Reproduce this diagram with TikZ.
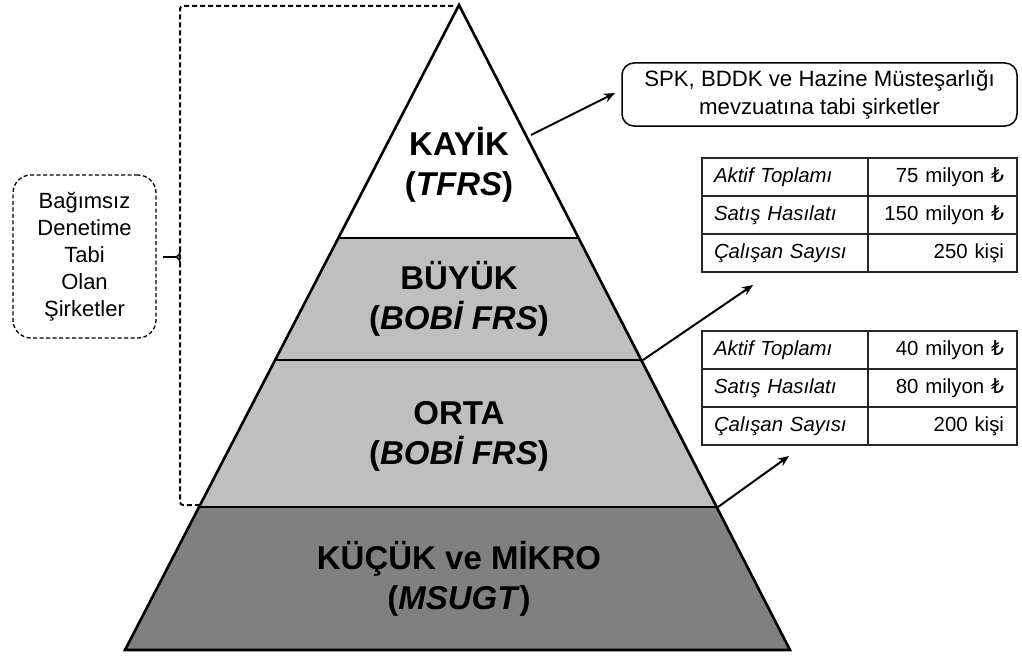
\documentclass[tikz,border=0pt]{standalone}
\usepackage{fontspec}
\setmainfont{Liberation Sans}
\newfontfamily\lirafont{DejaVu Sans}
\usetikzlibrary{arrows.meta}
\newcommand{\TL}{{\lirafont ₺}}
\begin{document}
\begin{tikzpicture}[x=1pt,y=-1pt,
  tierline/.style={draw=black,line width=2.6pt,line join=miter},
  tiertext/.style={align=center,font=\bfseries\fontsize{33}{40}\selectfont},
  dashbox/.style={draw=black,line width=1.3pt,dash pattern=on 4pt off 2.5pt,rounded corners=18pt},
  arr/.style={draw=black,line width=2pt,-{Stealth[length=11pt,width=9pt]}},
  cellL/.style={draw=black!85,line width=1.5pt,minimum width=166pt,minimum height=38pt,text width=142pt,inner xsep=12pt,align=left,font=\itshape\fontsize{20.4}{24}\selectfont,text height=14pt,text depth=4pt},
  cellR/.style={draw=black!85,line width=1.5pt,minimum width=149pt,minimum height=38pt,text width=123pt,inner xsep=13pt,align=right,font=\fontsize{20.4}{24}\selectfont,text height=14pt,text depth=4pt}
]
\useasboundingbox (0,0) rectangle (1022,661);
% pyramid points
\coordinate (A) at (459,5);
\coordinate (L1) at (339,238); \coordinate (R1) at (579,238);
\coordinate (L2) at (276,360); \coordinate (R2) at (643,360);
\coordinate (L3) at (200,507); \coordinate (R3) at (718,507);
\coordinate (BL) at (125,650); \coordinate (BR) at (790,650);
% fills
\fill[white] (A)--(R1)--(L1)--cycle;
\fill[black!25] (L1)--(R1)--(R2)--(L2)--cycle;
\fill[black!25] (L2)--(R2)--(R3)--(L3)--cycle;
\fill[black!50] (L3)--(R3)--(BR)--(BL)--cycle;
% outlines
\draw[tierline] (A)--(BR)--(BL)--cycle;
\draw[tierline] (L1)--(R1);
\draw[tierline] (L2)--(R2);
\draw[tierline] (L3)--(R3);
% tier texts
\node[tiertext] (kayik) at (459,165) {KAYİK\\(\textit{TFRS})};
\node[tiertext] (buyuk) at (459,299) {BÜYÜK\\(\textit{BOBİ FRS})};
\node[tiertext] (orta) at (459,436) {ORTA\\(\textit{BOBİ FRS})};
\node[tiertext] (kucuk) at (459,579) {KÜÇÜK ve MİKRO\\(\textit{MSUGT})};
% left box
\node[dashbox,minimum width=143pt,minimum height=163pt,align=center,font=\fontsize{22}{27}\selectfont] (lbox) at (84.5,256.5) {Bağımsız\\Denetime\\Tabi\\Olan\\Şirketler};
% bracket
\draw[line width=2pt,dash pattern=on 5pt off 3pt,rounded corners=3pt] (453,6) -| (180,505) -- (199,505);
\coordinate (tipL) at (163,257);
\coordinate (tipR) at (180,257);
\draw[line width=1.6pt] (tipL) -- (174,257) .. controls (178,257) and (180,255) .. (180,251);
\draw[line width=1.6pt] (174,257) .. controls (178,257) and (180,259) .. (180,263);
% SPK box
\node[draw=black,line width=1.5pt,rounded corners=12pt,minimum width=395pt,minimum height=63pt,align=center,font=\fontsize{22.2}{28}\selectfont] (spk) at (819.5,94.5) {SPK, BDDK ve Hazine Müsteşarlığı\\mevzuatına tabi şirketler};
\coordinate (k1) at (531,135);
\coordinate (k1e) at (615,93);
\draw[arr] (k1) -- (k1e);
% table 1
\node[cellL] (a1) at (785,177) {Aktif Toplamı};
\node[cellR] (a2) at (942.5,177) {75 milyon \TL};
\node[cellL] (b1) at (785,215) {Satış Hasılatı};
\node[cellR] (b2) at (942.5,215) {150 milyon \TL};
\node[cellL] (c1) at (785,253) {Çalışan Sayısı};
\node[cellR] (c2) at (942.5,253) {250 kişi};
% table 2
\node[cellL] (d1) at (785,350) {Aktif Toplamı};
\node[cellR] (d2) at (942.5,350) {40 milyon \TL};
\node[cellL] (e1) at (785,388) {Satış Hasılatı};
\node[cellR] (e2) at (942.5,388) {80 milyon \TL};
\node[cellL] (f1) at (785,426) {Çalışan Sayısı};
\node[cellR] (f2) at (942.5,426) {200 kişi};
% arrows to tables
\coordinate (t1e) at (753,285);
\coordinate (t2e) at (789,456);
\draw[arr] (R2) -- (t1e);
\draw[arr] (R3) -- (t2e);
\end{tikzpicture}
\end{document}
